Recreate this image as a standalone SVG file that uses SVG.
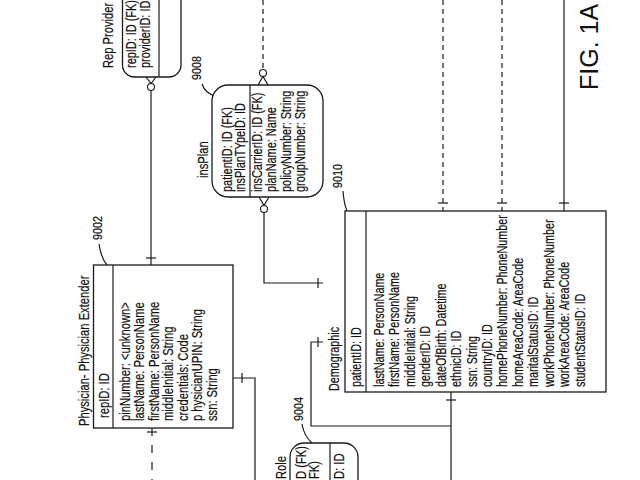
<svg xmlns="http://www.w3.org/2000/svg" width="640" height="480" viewBox="0 0 640 480">
<style>
.bg{fill:#fff}
.box{fill:#fff;stroke:#1a1a1a;stroke-width:1.3}
.ln{fill:none;stroke:#1a1a1a;stroke-width:1.2}
.ds{fill:none;stroke:#1a1a1a;stroke-width:1.2;stroke-dasharray:5 4}
.dl{fill:none;stroke:#1a1a1a;stroke-width:1.2;stroke-dasharray:8 9}
.ci{fill:#fff;stroke:#1a1a1a;stroke-width:1.1}
.t{font-family:"Liberation Sans",Arial,sans-serif;font-size:14px;fill:#111;stroke:#111;stroke-width:0.2}
.lb{font-family:"Liberation Sans",Arial,sans-serif;font-size:12px;fill:#111;stroke:#111;stroke-width:0.2}
.fig{font-family:"Liberation Sans",Arial,sans-serif;font-size:25px;fill:#111}
</style>
<rect class="bg" x="0" y="0" width="640" height="480"/>

<g id="connectors">
  <line class="ln" x1="151" y1="90.5" x2="151" y2="265"/>
  <circle class="ci" cx="151" cy="87" r="3.5"/>
  <path class="ln" d="M146,77 L151,83.5 L156,77"/>
  <path class="ln" d="M146,258 H156"/>
  <line class="ds" x1="263" y1="0" x2="263" y2="69.5"/>
  <circle class="ci" cx="263" cy="73" r="3.5"/>
  <path class="ln" d="M258,85 L263,76.5 L268,85"/>
  <path class="ln" d="M259,197 L264,205.5 L269,197"/>
  <circle class="ci" cx="264" cy="209" r="3.5"/>
  <path class="ln" d="M264,212.5 V283 H323"/>
  <path class="ln" d="M318,278 V288"/>
  <path class="dl" d="M152,428 V480"/>
  <path class="ln" d="M147,432 H157"/>
  <path class="ln" d="M233,378 H255 V480"/>
  <path class="ln" d="M242,373 V383"/>
  <path class="ln" d="M323,342 H311 V426 H451"/>
  <path class="ln" d="M318,337 V347"/>
  <path class="ln" d="M451,392 V480"/>
  <path class="ln" d="M446,400 H456"/>
  <path class="ds" d="M443,0 V211"/>
  <path class="ln" d="M438,203 H448"/>
  <path class="ds" d="M502,0 V211"/>
  <path class="ln" d="M497,203 H507"/>
  <path class="ln" d="M564,0 V211"/>
  <path class="ln" d="M559,203 H569"/>
  <path class="ln" d="M99,244 Q101,258 107,265"/>
  <path class="ln" d="M202,84 Q205,93 215,96"/>
  <path class="ln" d="M343,191 Q344,204 347,211"/>
  <path class="ln" d="M302,424 Q304,436 312,443"/>
</g>

<g id="rep-provider">
  <rect class="box" x="122.5" y="-20" width="58.5" height="97" rx="12"/>
  <line class="ln" x1="159" y1="-20" x2="159" y2="77"/>
  <text class="t" transform="translate(113,68) rotate(-90) scale(0.8,1)">Rep Provider</text>
  <g transform="translate(136,68) rotate(-90) scale(0.78,1)">
    <text class="t" x="0" y="0">repID: ID (FK)</text>
    <text class="t" x="0" y="14">providerID: ID</text>
  </g>
</g>

<g id="physician">
  <rect class="box" x="93.5" y="265" width="139.5" height="163"/>
  <line class="ln" x1="113" y1="265" x2="113" y2="428"/>
  <text class="t" transform="translate(89,426) rotate(-90) scale(0.8,1)">Physician- Physician Extender</text>
  <text class="t" transform="translate(109,418) rotate(-90) scale(0.8,1)">repID: ID</text>
  <g transform="translate(130,421) rotate(-90) scale(0.8,1)">
    <text class="t" x="0" y="0">pinNumber: &lt;unknown&gt;</text>
    <text class="t" x="0" y="14.5">lastName: PersonName</text>
    <text class="t" x="0" y="29">firstName: PersonName</text>
    <text class="t" x="0" y="43.5">middleInitial: String</text>
    <text class="t" x="0" y="58">credentials: Code</text>
    <text class="t" x="0" y="72.5">p hysicianUPIN: String</text>
    <text class="t" x="0" y="87">ssn: String</text>
  </g>
  <text class="lb" transform="translate(102,240) rotate(-90) scale(0.9,1)">9002</text>
</g>

<g id="insplan">
  <rect class="box" x="212" y="85" width="111" height="112" rx="16"/>
  <line class="ln" x1="250" y1="85" x2="250" y2="197"/>
  <text class="t" transform="translate(208,178) rotate(-90) scale(0.8,1)">insPlan</text>
  <g transform="translate(232,192) rotate(-90) scale(0.78,1)">
    <text class="t" x="0" y="0">patientID: ID (FK)</text>
    <text class="t" x="0" y="13">insPlanTYpeID: ID</text>
  </g>
  <g transform="translate(262,192) rotate(-90) scale(0.78,1)">
    <text class="t" x="0" y="0">insCarrierID: ID (FK)</text>
    <text class="t" x="0" y="14.3">planName: Name</text>
    <text class="t" x="0" y="28.6">policyNumber: String</text>
    <text class="t" x="0" y="42.9">groupNumber: String</text>
  </g>
  <text class="lb" transform="translate(201,80) rotate(-90) scale(0.9,1)">9008</text>
</g>

<g id="demographic">
  <rect class="box" x="345" y="211" width="261" height="181"/>
  <line class="ln" x1="366" y1="211" x2="366" y2="392"/>
  <text class="t" transform="translate(339,391) rotate(-90) scale(0.77,1)">Demographic</text>
  <text class="t" transform="translate(361,387) rotate(-90) scale(0.77,1)">patientID: ID</text>
  <g transform="translate(384,387) rotate(-90) scale(0.77,1)">
    <text class="t" x="0" y="0">lastName: PersonName</text>
    <text class="t" x="0" y="15.43">firstName: PersonName</text>
    <text class="t" x="0" y="30.86">middleInitial: String</text>
    <text class="t" x="0" y="46.29">genderID: ID</text>
    <text class="t" x="0" y="61.72">dateOfBirth: Datetime</text>
    <text class="t" x="0" y="77.15">ethnicID: ID</text>
    <text class="t" x="0" y="92.58">ssn: String</text>
    <text class="t" x="0" y="108.01">countryID: ID</text>
    <text class="t" x="0" y="123.44">homePhoneNumber: PhoneNumber</text>
    <text class="t" x="0" y="138.87">homeAreaCode: AreaCode</text>
    <text class="t" x="0" y="154.3">maritalStatusID: ID</text>
    <text class="t" x="0" y="169.73">workPhoneNumber: PhoneNumber</text>
    <text class="t" x="0" y="185.16">workAreaCode: AreaCode</text>
    <text class="t" x="0" y="200.59">studentStatusID: ID</text>
  </g>
  <text class="lb" transform="translate(342,188) rotate(-90) scale(0.9,1)">9010</text>
</g>

<g id="role">
  <rect class="box" x="290" y="443" width="68" height="60" rx="14"/>
  <line class="ln" x1="330" y1="443" x2="330" y2="480"/>
  <text class="t" transform="translate(286,479) rotate(-90) scale(0.8,1)">Role</text>
  <text class="t" transform="translate(306,479) rotate(-90) scale(0.8,1)">D (FK)</text>
  <text class="t" transform="translate(319,479) rotate(-90) scale(0.8,1)">FK)</text>
  <text class="t" transform="translate(344,479) rotate(-90) scale(0.8,1)">D: ID</text>
  <text class="lb" transform="translate(303,421) rotate(-90) scale(0.9,1)">9004</text>
</g>

<g id="figure-label">
  <text class="fig" transform="translate(598,90) rotate(-90)">FIG. 1A</text>
</g>
</svg>
